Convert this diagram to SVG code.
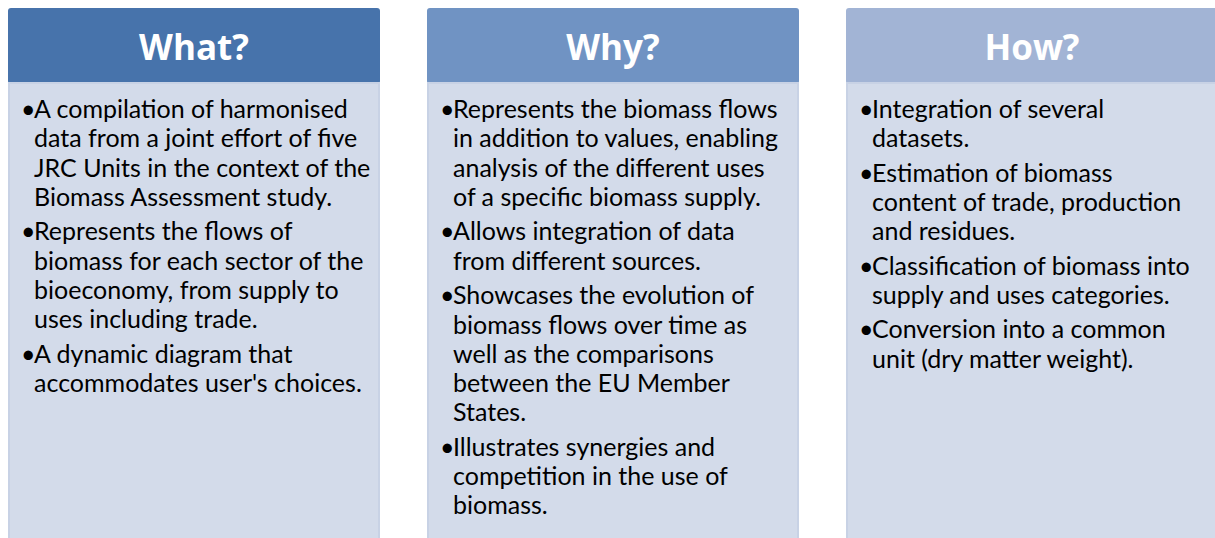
<svg xmlns="http://www.w3.org/2000/svg" width="1215" height="538" viewBox="0 0 1215 538">
<style>
.body{fill:#d3dbea;stroke:#c8d2e5;stroke-width:2}
.title{font-family:"Open Sans","Liberation Sans",sans-serif;font-weight:bold;font-size:35px;fill:#ffffff;text-anchor:middle}
.t{font-family:Lato,"Liberation Sans",sans-serif;font-size:25px;fill:#000000}
</style>
<rect width="1215" height="538" fill="#ffffff"/>
<g id="what">
<rect x="8" y="8" width="372" height="76" rx="3" fill="#4773ab"/>
<rect class="body" x="9" y="83" width="370" height="470"/>
<text class="title" x="194" y="60">What?</text>
<text class="t"><tspan x="21" y="118">•</tspan><tspan x="34" y="118">A compilation of harmonised</tspan><tspan x="34" y="147">data from a joint effort of five</tspan><tspan x="34" y="177">JRC Units in the context of the</tspan><tspan x="34" y="206">Biomass Assessment study.</tspan><tspan x="21" y="240">•</tspan><tspan x="34" y="240">Represents the flows of</tspan><tspan x="34" y="270">biomass for each sector of the</tspan><tspan x="34" y="299">bioeconomy, from supply to</tspan><tspan x="34" y="328">uses including trade.</tspan><tspan x="21" y="363">•</tspan><tspan x="34" y="363">A dynamic diagram that</tspan><tspan x="34" y="392">accommodates user's choices.</tspan></text>
</g>
<g id="why">
<rect x="427" y="8" width="372" height="76" rx="3" fill="#7093c3"/>
<rect class="body" x="428" y="83" width="370" height="470"/>
<text class="title" x="613" y="60">Why?</text>
<text class="t"><tspan x="440" y="118">•</tspan><tspan x="453" y="118">Represents the biomass flows</tspan><tspan x="453" y="147">in addition to values, enabling</tspan><tspan x="453" y="177">analysis of the different uses</tspan><tspan x="453" y="206">of a specific biomass supply.</tspan><tspan x="440" y="240">•</tspan><tspan x="453" y="240">Allows integration of data</tspan><tspan x="453" y="270">from different sources.</tspan><tspan x="440" y="304">•</tspan><tspan x="453" y="304">Showcases the evolution of</tspan><tspan x="453" y="334">biomass flows over time as</tspan><tspan x="453" y="363">well as the comparisons</tspan><tspan x="453" y="392">between the EU Member</tspan><tspan x="453" y="421">States.</tspan><tspan x="440" y="456">•</tspan><tspan x="453" y="456">Illustrates synergies and</tspan><tspan x="453" y="485">competition in the use of</tspan><tspan x="453" y="514">biomass.</tspan></text>
</g>
<g id="how">
<rect x="846" y="8" width="372" height="76" rx="3" fill="#a2b4d5"/>
<rect class="body" x="847" y="83" width="370" height="470"/>
<text class="title" x="1032" y="60">How?</text>
<text class="t"><tspan x="859" y="118">•</tspan><tspan x="872" y="118">Integration of several</tspan><tspan x="872" y="147">datasets.</tspan><tspan x="859" y="182">•</tspan><tspan x="872" y="182">Estimation of biomass</tspan><tspan x="872" y="211">content of trade, production</tspan><tspan x="872" y="240">and residues.</tspan><tspan x="859" y="275">•</tspan><tspan x="872" y="275">Classification of biomass into</tspan><tspan x="872" y="304">supply and uses categories.</tspan><tspan x="859" y="338">•</tspan><tspan x="872" y="338">Conversion into a common</tspan><tspan x="872" y="368">unit (dry matter weight).</tspan></text>
</g>
<g id="connectors"/>
</svg>
